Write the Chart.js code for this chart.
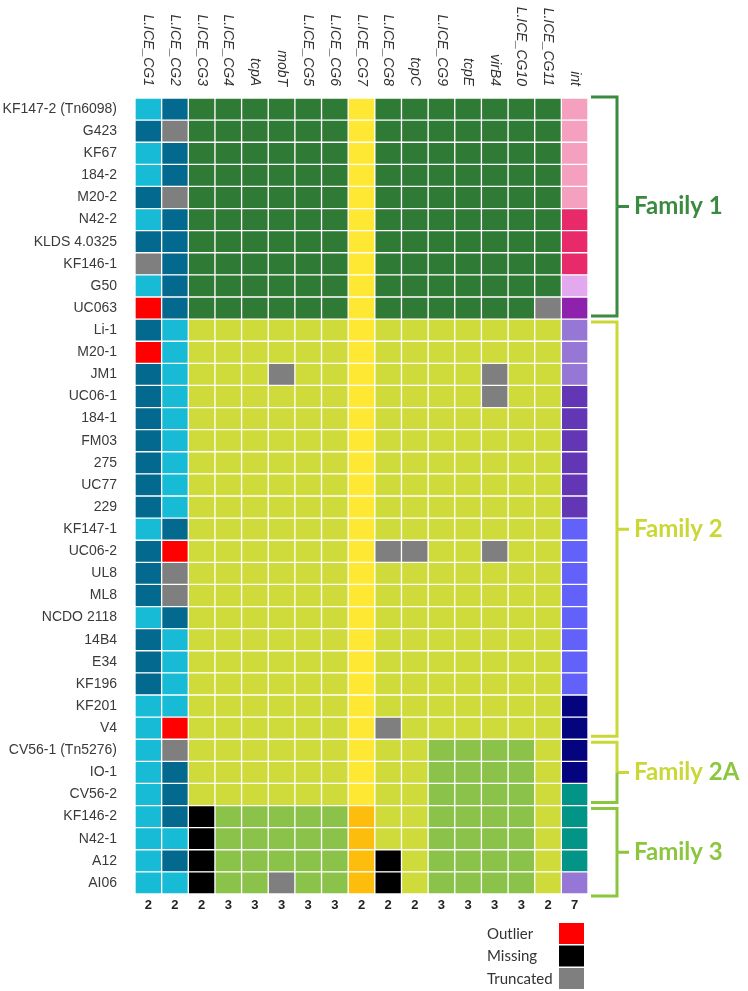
<!DOCTYPE html>
<html>
<head>
<meta charset="utf-8">
<script src="https://cdn.jsdelivr.net/npm/chart.js@4"></script>
<style>
  html, body { margin: 0; padding: 0; background: #fff; }
  canvas { display: block; }
</style>
</head>
<body>
<canvas id="heat" width="748" height="991"></canvas>
<script>
const strains = ['KF147-2 (Tn6098)', 'G423', 'KF67', '184-2', 'M20-2', 'N42-2', 'KLDS 4.0325', 'KF146-1', 'G50', 'UC063',
  'Li-1', 'M20-1', 'JM1', 'UC06-1', '184-1', 'FM03', '275', 'UC77', '229', 'KF147-1', 'UC06-2', 'UL8', 'ML8',
  'NCDO 2118', '14B4', 'E34', 'KF196', 'KF201', 'V4', 'CV56-1 (Tn5276)', 'IO-1', 'CV56-2', 'KF146-2', 'N42-1', 'A12', 'AI06'];

const genes = ['L.ICE_CG1', 'L.ICE_CG2', 'L.ICE_CG3', 'L.ICE_CG4', 'tcpA', 'mobT', 'L.ICE_CG5', 'L.ICE_CG6', 'L.ICE_CG7',
  'L.ICE_CG8', 'tcpC', 'L.ICE_CG9', 'tcpE', 'virB4', 'L.ICE_CG10', 'L.ICE_CG11', 'int'];

// number of variants per gene (row under the grid)
const variants = [2, 2, 2, 3, 3, 3, 3, 3, 2, 2, 2, 3, 3, 3, 3, 2, 7];

// one letter per gene, one string per strain
const cells = [
  'cbGGGGGGyGGGGGGGp', 'bTGGGGGGyGGGGGGGp', 'cbGGGGGGyGGGGGGGp', 'cbGGGGGGyGGGGGGGp', 'bTGGGGGGyGGGGGGGp',
  'cbGGGGGGyGGGGGGGm', 'bbGGGGGGyGGGGGGGm', 'TbGGGGGGyGGGGGGGm', 'cbGGGGGGyGGGGGGGl', 'RbGGGGGGyGGGGGGTu',
  'bcYYYYYYyYYYYYYYv', 'RcYYYYYYyYYYYYYYv', 'bcYYYTYYyYYYYTYYv', 'bcYYYYYYyYYYYTYYd', 'bcYYYYYYyYYYYYYYd',
  'bcYYYYYYyYYYYYYYd', 'bcYYYYYYyYYYYYYYd', 'bcYYYYYYyYYYYYYYd', 'bcYYYYYYyYYYYYYYd', 'cbYYYYYYyYYYYYYYn',
  'bRYYYYYYyTTYYTYYn', 'bTYYYYYYyYYYYYYYn', 'bTYYYYYYyYYYYYYYn', 'cbYYYYYYyYYYYYYYn', 'bcYYYYYYyYYYYYYYn',
  'bcYYYYYYyYYYYYYYn', 'bcYYYYYYyYYYYYYYn', 'ccYYYYYYyYYYYYYYN', 'cRYYYYYYyTYYYYYYN', 'cTYYYYYYyYYggggYN',
  'cbYYYYYYyYYggggYN', 'cbYYYYYYyYYggggYt', 'cbKgggggoYYggggYt', 'ccKgggggoYYggggYt', 'cbKgggggoKYggggYt',
  'ccKggTggoKYggggYv'
];

const familyNames = ['Family 1', 'Family 2', 'Family 2A', 'Family 3'];
const familyFirst = [0, 10, 29, 32];
const familyLast = [9, 28, 31, 35];

const legendLabels = ['Outlier', 'Missing', 'Truncated'];
const legendCodes = ['R', 'K', 'T'];

const palette = {
  c: '#17bbd6', b: '#04698f', G: '#2f7a34', Y: '#cfdb3a', g: '#8bc34a', y: '#ffe833', o: '#fdbd0c',
  R: '#ff0000', K: '#000000', T: '#7f7f7f',
  p: '#f5a0be', m: '#e8296a', l: '#e2a9ee', u: '#8e22ad', v: '#9677d6', d: '#6236b5', n: '#6262fb',
  N: '#04047f', t: '#029486'
};
const familyColors = [['#3a8a3f'], ['#c9d836'], ['#c9d836', '#8cc63f'], ['#8cc63f']];

const datasets = genes.map((g, k) => ({
  label: g,
  data: strains.map(() => 1),
  backgroundColor: cells.map(r => palette[r[k]]),
  borderColor: '#ffffff',
  borderWidth: 1,
  borderSkipped: false,
  categoryPercentage: 1,
  barPercentage: 1
}));

const extras = {
  id: 'extras',
  afterDraw(chart) {
    const ctx = chart.ctx;
    const area = chart.chartArea;
    const xs = chart.scales.x;
    const ys = chart.scales.y;
    const pitch = (area.bottom - area.top) / strains.length;
    ctx.save();

    // gene names, rotated clockwise
    ctx.fillStyle = '#333';
    ctx.font = 'italic 14px "Liberation Sans", Arial, sans-serif';
    ctx.textAlign = 'right';
    ctx.textBaseline = 'middle';
    genes.forEach((g, k) => {
      ctx.save();
      ctx.translate(xs.getPixelForValue(k + 0.5), area.top - 12);
      ctx.rotate(Math.PI / 2);
      ctx.fillText(g, 0, 0);
      ctx.restore();
    });

    // variant counts
    ctx.font = 'bold 13px "Liberation Sans", Arial, sans-serif';
    ctx.textAlign = 'center';
    ctx.fillStyle = '#222';
    variants.forEach((v, k) => {
      ctx.fillText(String(v), xs.getPixelForValue(k + 0.5), area.bottom + 11);
    });

    // family brackets
    const bx0 = area.right + 3, bx1 = area.right + 29;
    const last = familyNames.length - 1;
    ctx.lineWidth = 3;
    familyNames.forEach((name, i) => {
      const top = ys.getPixelForValue(familyFirst[i]) - pitch / 2 + (i === 0 ? -1 : 3);
      const bot = ys.getPixelForValue(familyLast[i]) + pitch / 2 + (i === last ? 2 : -3);
      const mid = (top + bot) / 2;
      const cols = familyColors[i];
      const cTop = cols[0], cBot = cols[cols.length - 1];
      ctx.strokeStyle = cTop;
      ctx.beginPath();
      ctx.moveTo(bx0, top); ctx.lineTo(bx1, top); ctx.lineTo(bx1, mid);
      ctx.moveTo(bx1, mid); ctx.lineTo(bx1 + 12, mid);
      ctx.stroke();
      ctx.strokeStyle = cBot;
      ctx.beginPath();
      ctx.moveTo(bx1, mid); ctx.lineTo(bx1, bot); ctx.lineTo(bx0, bot);
      ctx.stroke();

      ctx.font = 'bold 24px Lato, "Open Sans", sans-serif';
      ctx.textAlign = 'left';
      ctx.textBaseline = 'middle';
      if (cols.length > 1) {
        const parts = name.split(' ');
        const first = parts[0] + ' ';
        ctx.fillStyle = cTop;
        ctx.fillText(first, bx1 + 17, mid);
        ctx.fillStyle = cBot;
        ctx.fillText(parts[1], bx1 + 17 + ctx.measureText(first).width, mid);
      } else {
        ctx.fillStyle = cTop;
        ctx.fillText(name, bx1 + 17, mid);
      }
    });

    // legend
    ctx.font = '15px Lato, "Open Sans", sans-serif';
    ctx.textAlign = 'left';
    ctx.textBaseline = 'middle';
    legendLabels.forEach((lab, i) => {
      const y = area.bottom + 29 + i * 22.5;
      ctx.fillStyle = palette[legendCodes[i]];
      ctx.fillRect(area.right - 29, y, 25, 21);
      ctx.fillStyle = '#333';
      ctx.fillText(lab, area.right - 101, y + 11);
    });

    ctx.restore();
  }
};

new Chart(document.getElementById('heat'), {
  type: 'bar',
  data: { labels: strains, datasets },
  options: {
    indexAxis: 'y',
    responsive: false,
    animation: false,
    devicePixelRatio: 1,
    layout: { padding: { left: 0, top: 98, right: 160, bottom: 97 } },
    plugins: { legend: { display: false }, tooltip: { enabled: false } },
    scales: {
      x: { display: false, stacked: true, min: 0, max: genes.length },
      y: {
        stacked: true,
        grid: { display: false },
        border: { display: false },
        ticks: { color: '#3a3a3a', padding: 10, font: { family: '"Liberation Sans", Arial, sans-serif', size: 14 } },
        afterFit(scale) { scale.width = 135; }
      }
    }
  },
  plugins: [extras]
});
</script>
</body>
</html>
